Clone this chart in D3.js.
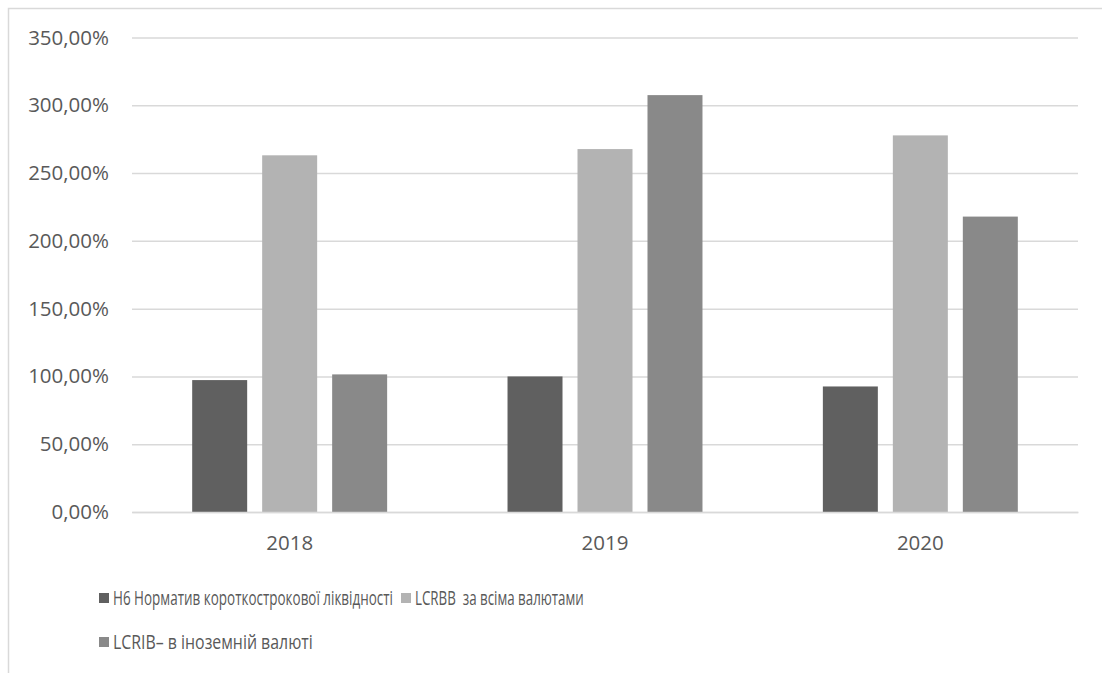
<!DOCTYPE html>
<html>
<head>
<meta charset="utf-8">
<script src="https://cdn.jsdelivr.net/npm/d3@7"></script>
<style>
  html, body { margin: 0; padding: 0; background: #fff; }
  svg { display: block; }
</style>
</head>
<body>
<svg id="chart" width="1102" height="673"></svg>
<script>
// Liquidity ratios by year, percent
const years = ["2018", "2019", "2020"];
const seriesNames = [
  "Н6 Норматив короткострокової ліквідності",
  "LCRBB  за всіма валютами",
  "LCRIB– в іноземній валюті"
];
const h6Values = [97.3, 100.0, 92.6];
const lcrbbValues = [263.1, 267.7, 277.8];
const lcribValues = [101.5, 307.5, 217.9];
const yTicks = [0, 50, 100, 150, 200, 250, 300, 350];
const seriesColors = ["#606060", "#b3b3b3", "#898989"];

const seriesValues = [h6Values, lcrbbValues, lcribValues];

const svg = d3.select("#chart");
const W = 1102, H = 673;
const plot = { left: 132, right: 1078, top: 37.5, bottom: 512 };
const textColor = "#595959";
const gridColor = "#d9d9d9";
const tickFont = "'Open Sans', 'Noto Sans', sans-serif";

svg.append("rect").attr("width", W).attr("height", H).attr("fill", "#fff");

// Outer chart frame (left and top edges visible)
svg.append("path")
  .attr("d", `M8.5,${H} L8.5,8.5 L${W},8.5`)
  .attr("fill", "none")
  .attr("stroke", gridColor)
  .attr("stroke-width", 1.5);

const x0 = d3.scaleBand().domain(years).range([plot.left, plot.right]).padding(0);
const x1 = d3.scaleBand().domain(d3.range(seriesNames.length))
  .range([0, x0.bandwidth()])
  .paddingInner(15 / 70)
  .paddingOuter(0.86);
const y = d3.scaleLinear().domain([0, 350]).range([plot.bottom, plot.top]);

const locale = d3.formatLocale({ decimal: ",", thousands: " ", grouping: [3], currency: ["", ""] });
const pct = v => locale.format(".2f")(v) + "%";

// Gridlines and value labels
const yAxis = d3.axisLeft(y)
  .tickValues(yTicks)
  .tickSize(-(plot.right - plot.left))
  .tickPadding(23)
  .tickFormat(pct);
const gy = svg.append("g").attr("transform", `translate(${plot.left},0)`).call(yAxis);
gy.select(".domain").remove();
gy.selectAll(".tick line").attr("stroke", gridColor).attr("stroke-width", 1.5);
gy.selectAll(".tick text")
  .attr("fill", textColor)
  .style("font-family", tickFont)
  .style("font-size", "20.5px");

// Bars
const groups = svg.append("g").selectAll("g")
  .data(years)
  .join("g")
  .attr("transform", d => `translate(${x0(d)},0)`);

groups.selectAll("rect")
  .data((yr, i) => seriesValues.map((vals, s) => ({ s, v: vals[i] })))
  .join("rect")
  .attr("x", d => x1(d.s))
  .attr("width", x1.bandwidth())
  .attr("y", d => y(d.v))
  .attr("height", d => y(0) - y(d.v))
  .attr("fill", d => seriesColors[d.s]);

// Category axis
const xAxis = d3.axisBottom(x0).tickSize(0).tickPadding(23);
const gx = svg.append("g").attr("transform", `translate(0,${plot.bottom})`).call(xAxis);
gx.select(".domain").attr("stroke", gridColor).attr("stroke-width", 1.5);
gx.selectAll(".tick text")
  .attr("fill", textColor)
  .style("font-family", tickFont)
  .style("font-size", "20.5px");

// Legend: two rows, labels set horizontally condensed
const legendItems = [
  { s: 0, x: 99, y: 598, textWidth: 280 },
  { s: 1, x: 401, y: 598, textWidth: 169 },
  { s: 2, x: 99, y: 642, textWidth: 200 }
];
const lg = svg.append("g");
legendItems.forEach(it => {
  lg.append("rect")
    .attr("x", it.x).attr("y", it.y - 5)
    .attr("width", 10).attr("height", 10)
    .attr("fill", seriesColors[it.s]);
  const g = lg.append("g").attr("transform", `translate(${it.x + 14},${it.y})`);
  const t = g.append("text")
    .attr("x", 0).attr("y", 0)
    .attr("dy", "0.36em")
    .attr("fill", textColor)
    .attr("xml:space", "preserve")
    .style("font-family", "'Open Sans', 'Noto Sans', sans-serif")
    .style("font-size", "19.5px")
    .text(seriesNames[it.s]);
  const len = t.node().getComputedTextLength();
  t.attr("transform", `scale(${it.textWidth / len},1)`);
});
</script>
</body>
</html>
